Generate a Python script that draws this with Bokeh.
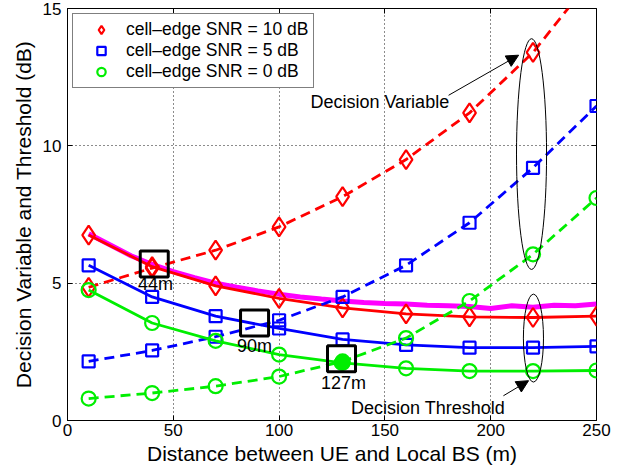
from bokeh.plotting import figure
from bokeh.models import (Range1d, LinearAxis, FixedTicker, Legend, LegendItem,
                          Arrow, NormalHead)
from bokeh.embed import file_html
from bokeh.resources import INLINE
from bokeh.core.properties import value

# ---------------- data ----------------
dist = [10, 40, 70, 100, 130, 160, 190, 220, 250]

thr_10 = [6.75, 5.6, 4.9, 4.45, 4.1, 3.88, 3.77, 3.75, 3.8]
var_10 = [4.85, 5.55, 6.2, 7.05, 8.15, 9.5, 11.2, 13.4, 16.3]
thr_5 = [5.65, 4.5, 3.8, 3.35, 2.95, 2.75, 2.65, 2.65, 2.7]
var_5 = [2.15, 2.55, 3.05, 3.65, 4.5, 5.65, 7.2, 9.2, 11.45]
thr_0 = [4.75, 3.55, 2.9, 2.4, 2.1, 1.9, 1.8, 1.8, 1.82]
var_0 = [0.8, 1.0, 1.25, 1.6, 2.15, 3.0, 4.35, 6.05, 8.1]

sim_dist = [10, 20, 30, 40, 50, 60, 70, 80, 90, 100, 110, 120, 130,
            140, 150, 160, 170, 180, 190, 200, 210, 220, 230, 240, 250]
sim_thr = [6.8, 6.4, 6.0, 5.68, 5.42, 5.2, 5.0, 4.85, 4.72, 4.6, 4.5, 4.42, 4.35,
           4.3, 4.26, 4.24, 4.2, 4.18, 4.15, 4.08, 4.18, 4.12, 4.2, 4.18, 4.24]

legend_labels = ["cell\u2013edge SNR = 10 dB", "cell\u2013edge SNR = 5 dB", "cell\u2013edge SNR = 0 dB"]

x_ticks = [0, 50, 100, 150, 200, 250]
y_ticks = [0, 5, 10, 15]

# crossing points (boxes) and their labels
cross_x = [41, 88.4, 129.5]
cross_y = [5.7, 3.55, 2.25]
cross_lbl = ["44m", "90m", "127m"]
cross_lbl_x = [41.6, 88.4, 130.4]
cross_lbl_y = [4.96, 2.72, 1.38]

# ellipses (decision variable group, decision threshold group)
ell_x = [219.3, 220.2]
ell_y = [9.7, 3.0]
ell_w = [14.2, 9.5]
ell_h = [8.4, 3.2]

note_text = ["Decision Variable", "Decision Threshold"]
note_x = [114.8, 134.0]
note_y = [11.58, 0.47]
arrow_start = [(180.1, 11.84), (206.0, 0.9)]
arrow_end = [(213.2, 13.3), (217.9, 1.45)]

FONT = "Liberation Sans"

p = figure(frame_width=529, frame_height=412, output_backend="svg", toolbar_location=None,
           x_range=Range1d(0, 250), y_range=Range1d(0, 15),
           min_border_left=67, min_border_right=18, min_border_top=8, min_border_bottom=40)

p.background_fill_color = "white"
p.border_fill_color = "white"
p.outline_line_color = "black"
p.outline_line_width = 1

for ax in (p.xaxis[0], p.yaxis[0]):
    ax.major_label_text_font = FONT
    ax.major_label_text_font_size = "17px"
    ax.major_label_text_color = "black"
    ax.axis_label_text_font = FONT
    ax.axis_label_text_font_size = "21px"
    ax.axis_label_text_font_style = "normal"
    ax.axis_label_text_color = "black"
    ax.major_tick_in = 5
    ax.major_tick_out = 0
    ax.minor_tick_in = 0
    ax.minor_tick_out = 0
    ax.axis_line_color = "black"
    ax.major_tick_line_color = "black"

p.xaxis[0].ticker = FixedTicker(ticks=x_ticks)
p.yaxis[0].ticker = FixedTicker(ticks=y_ticks)
p.xaxis[0].axis_label = "Distance between UE and Local BS (m)"
p.yaxis[0].axis_label = "Decision Variable and Threshold (dB)"
p.xaxis[0].major_label_standoff = 3
p.yaxis[0].major_label_standoff = 6
p.xaxis[0].axis_label_standoff = 3
p.yaxis[0].axis_label_standoff = 5

# mirrored ticks on top and right (no labels)
top_ax = LinearAxis(ticker=FixedTicker(ticks=x_ticks),
                    major_label_overrides={t: "" for t in x_ticks},
                    major_tick_in=5, major_tick_out=0, minor_tick_in=0, minor_tick_out=0,
                    axis_line_color=None, major_label_standoff=0, major_tick_line_color="black")
right_ax = LinearAxis(ticker=FixedTicker(ticks=y_ticks),
                      major_label_overrides={t: "" for t in y_ticks},
                      major_tick_in=5, major_tick_out=0, minor_tick_in=0, minor_tick_out=0,
                      axis_line_color=None, major_label_standoff=0, major_tick_line_color="black")
p.add_layout(top_ax, "above")
p.add_layout(right_ax, "right")

for g in (p.xgrid[0], p.ygrid[0]):
    g.grid_line_color = "black"
    g.grid_line_dash = "1 3"
    g.grid_line_width = 1
    g.grid_line_alpha = 0.9
p.xgrid[0].ticker = FixedTicker(ticks=x_ticks)
p.ygrid[0].ticker = FixedTicker(ticks=y_ticks)

RED, BLUE, GREEN, MAG = "#ff0000", "#0000ff", "#00ee00", "#ff00ff"
LW = 2.8
DASH = "10 6"

# simulated threshold (magenta)
p.line(sim_dist, sim_thr, line_color=MAG, line_width=5)

series = [
    (thr_10, var_10, RED, "diamond", 19),
    (thr_5, var_5, BLUE, "square", 12),
    (thr_0, var_0, GREEN, "circle", 14),
]
legend_items = []
for (thr, var, col, mk, sz), lbl in zip(series, legend_labels):
    p.line(dist, thr, line_color=col, line_width=LW)
    p.line(dist, var, line_color=col, line_width=LW, line_dash=DASH)
    r = p.scatter(dist, thr, marker=mk, size=sz, line_color=col, fill_color=None, line_width=2.2)
    p.scatter(dist, var, marker=mk, size=sz, line_color=col, fill_color=None, line_width=2.2)
    legend_items.append(LegendItem(label=lbl, renderers=[r]))

# filled green point at the 127 m crossing
p.scatter([cross_x[2]], [thr_0[4]], marker="circle", size=15, fill_color=GREEN, line_color=GREEN)

# crossing boxes
p.rect(cross_x, cross_y, width=28, height=26, width_units="screen", height_units="screen",
       fill_color=None, line_color="black", line_width=3)
p.text(cross_lbl_x, cross_lbl_y, text=cross_lbl, text_align="center", text_baseline="middle",
       text_font=value(FONT), text_font_size="18px", text_color="black")

# ellipses
p.ellipse(ell_x, ell_y, width=ell_w, height=ell_h, fill_color=None, line_color="black", line_width=1)

# annotations
p.text(note_x, note_y, text=note_text, text_align="left", text_baseline="middle",
       text_font=value(FONT), text_font_size="18px", text_color="black")
for (x0, y0), (x1, y1) in zip(arrow_start, arrow_end):
    p.add_layout(Arrow(end=NormalHead(size=12, fill_color="black", line_color="black"),
                       x_start=x0, y_start=y0, x_end=x1, y_end=y1,
                       line_color="black", line_width=1))

legend = Legend(items=legend_items, location="top_left", border_line_color="black",
                border_line_width=1, label_text_font=FONT, label_text_font_size="17.5px",
                label_text_color="black", margin=5, padding=5, spacing=0,
                glyph_width=46, glyph_height=21, label_height=21, label_standoff=2,
                background_fill_color="white", background_fill_alpha=1)
p.add_layout(legend)

open("out.html", "w").write(file_html(p, INLINE))
